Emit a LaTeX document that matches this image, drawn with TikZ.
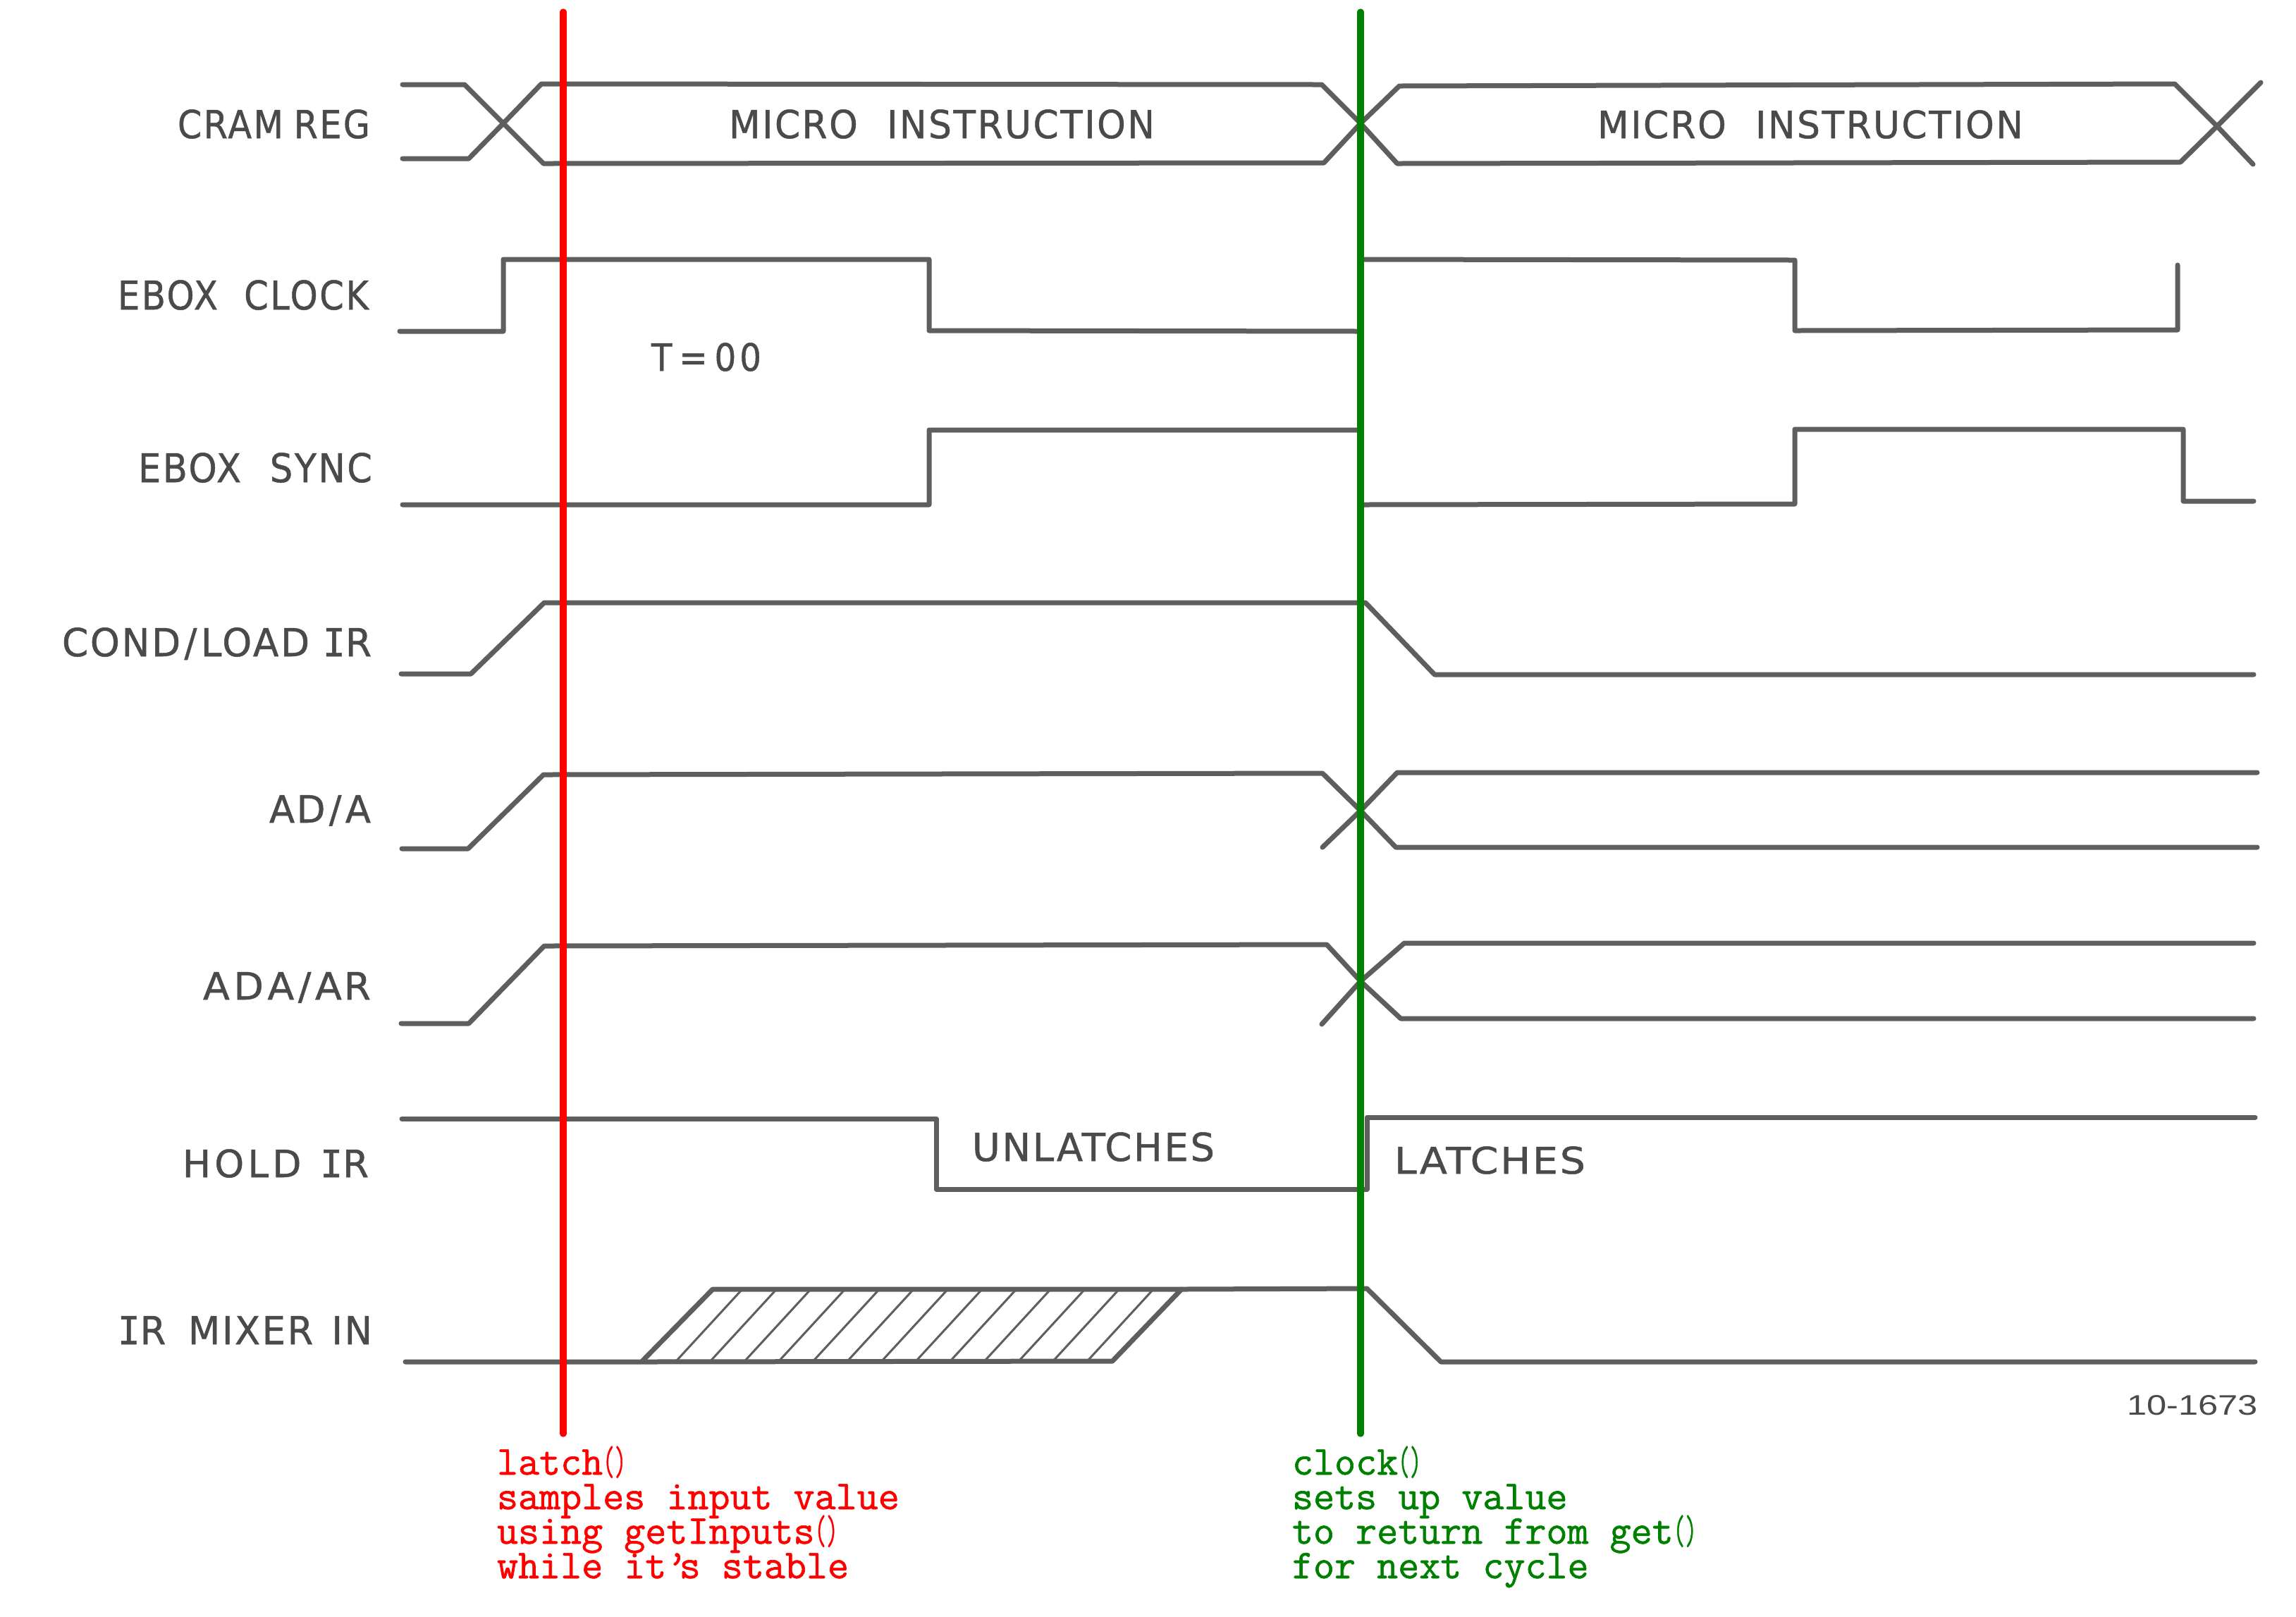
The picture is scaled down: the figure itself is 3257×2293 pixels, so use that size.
\documentclass[tikz,border=0pt]{standalone}
\usepackage{fontspec}
\usepackage{graphicx}
\setmainfont{DejaVu Sans}
\newfontfamily\letterfont[FakeBold=0.9,LetterSpace=5]{DejaVu Sans}
\newfontfamily\slabI[FakeBold=0.9]{DejaVu Sans Mono}
\newfontfamily\partfont{Liberation Sans}
\newfontfamily\notefont[FakeBold=1.1]{Latin Modern Mono}
\newlength\px
\setlength\px{0.3pt}
\newcommand{\Iser}{{\slabI I}}
% name, x left, y baseline, width, cap height, text
\newcommand{\lab}[6]{\node[lettering] (#1) at (#2,#3) {\resizebox{#4\px}{#5\px}{\vphantom{H}\smash{#6}}};}
\newcommand{\gap}[1]{\hspace{#1em}}
\newcommand{\pp}{\scalebox{0.55}[1]{()}}
\definecolor{ink}{HTML}{5E5E5E}
\definecolor{letter}{HTML}{4A4A4A}
\definecolor{latchred}{HTML}{FF0000}
\definecolor{clockgreen}{HTML}{008000}
\tikzset{
  wave/.style={draw=ink,line width=7\px,line cap=round,line join=round},
  hatchline/.style={draw=ink,line width=3\px},
  lettering/.style={inner sep=0pt,outer sep=0pt,anchor=south west,text=letter,font=\letterfont},
  marker/.style={line width=9.3\px,line cap=round},
  note/.style={inner sep=0pt,outer sep=0pt,anchor=base west,font=\notefont\fontsize{17.5}{14.7}\selectfont},
}
\begin{document}
\begin{tikzpicture}[x=0.3pt,y=-0.3pt]
\useasboundingbox (0,0) rectangle (3257,2293);
% CRAM REG
\draw[wave] (571,120) -- (659,120) -- (714,175) -- (771,232) -- (1878,231) -- (1930,175) -- (1985,122) -- (3085,119) -- (3145,179) -- (3196,233);
\draw[wave] (571,225) -- (665,225) -- (714,175) -- (768,119) -- (1875,120) -- (1930,175) -- (1982,232) -- (3093,230) -- (3145,179) -- (3207,117);
% EBOX CLOCK
\draw[wave] (567,470) -- (714,470) -- (714,368) -- (1318,368) -- (1318,469) -- (1931,470) -- (1931,368) -- (2546,369) -- (2546,469) -- (3089,468) -- (3089,376);
% EBOX SYNC
\draw[wave] (571,716) -- (1318,716) -- (1318,610) -- (1931,610) -- (1931,716) -- (2546,715) -- (2546,609) -- (3097,609) -- (3097,711) -- (3197,711);
% COND/LOAD IR
\draw[wave] (569,956) -- (668,956) -- (772,855) -- (1937,855) -- (2035,957) -- (3197,957);
% AD/A
\draw[wave] (570,1204) -- (664,1204) -- (771,1099) -- (1876,1097) -- (1930,1150) -- (1980,1202) -- (3202,1202);
\draw[wave] (1876,1202) -- (1930,1150) -- (1982,1096) -- (3202,1096);
% ADA/AR
\draw[wave] (569,1452) -- (665,1452) -- (772,1342) -- (1882,1340) -- (1930,1392) -- (1987,1445) -- (3197,1445);
\draw[wave] (1875,1453) -- (1930,1392) -- (1992,1338) -- (3197,1338);
% HOLD IR
\draw[wave] (570,1587) -- (1328,1587) -- (1328,1687) -- (1939,1687) -- (1939,1585) -- (3199,1585);
% IR MIXER IN
\draw[wave] (575,1932) -- (910,1932) -- (1578,1931) -- (1676,1829) -- (1011,1829) -- (910,1932);
\draw[wave] (1676,1829) -- (1939,1828) -- (2044,1932) -- (3199,1932);
\foreach \i in {0,...,12} \draw[hatchline] ({960+48.6*\i},1930) -- ({1052+48.6*\i},1830);
% Lettering
\lab{cram}{252}{196}{273}{40}{CRAM\gap{0.3}REG}
\lab{clock}{167}{439}{356}{41}{EBOX\gap{0.75}CLOCK}
\lab{sync}{196}{684}{332}{41}{EBOX\gap{0.8}SYNC}
\lab{cond}{88}{931}{439}{40}{COND\gap{0.1}/\gap{0.1}LOAD\gap{0.35}\Iser R}
\lab{ada}{382}{1167}{144}{39}{AD\gap{0.1}/\gap{0.1}A}
\lab{adar}{288}{1418}{238}{39}{A\gap{0.1}D\gap{0.1}A\gap{0.1}/\gap{0.1}AR}
\lab{hold}{259}{1670}{264}{39}{H\gap{0.1}O\gap{0.1}L\gap{0.1}D\gap{0.5}\Iser R}
\lab{mixer}{167}{1907}{361}{40}{\Iser R\gap{0.6}MIXER\gap{0.5}IN}
\lab{micro}{1034}{196}{604}{40}{MICRO\gap{0.8}INSTRUCTION}
\lab{microb}{2266}{196}{604}{39}{MICRO\gap{0.8}INSTRUCTION}
\lab{tzero}{924}{526}{156}{39}{T\gap{0.2}=\gap{0.2}0\gap{0.1}0}
\lab{unlatch}{1379}{1647}{344}{40}{UNLATCHES}
\lab{latch}{1978}{1665}{271}{38}{LATCHES}
\node[lettering,font=\partfont] (partno) at (3017,2008) {\resizebox{186\px}{28\px}{10-1673}};
% Markers
\draw[marker,draw=clockgreen] (1930,17) -- (1930,2034);
\draw[marker,draw=latchred] (799,17) -- (799,2034);
% Notes
\node[note,text=latchred] (n1) at (705,2092) {latch\pp};
\node[note,text=latchred] (n2) at (705,2141) {samples input value};
\node[note,text=latchred] (n3) at (705,2190) {using getInputs\pp};
\node[note,text=latchred] (n4) at (705,2239) {while it’\kern-0.2em s stable};
\node[note,text=clockgreen] (m1) at (1833,2092) {clock\pp};
\node[note,text=clockgreen] (m2) at (1833,2141) {sets up value};
\node[note,text=clockgreen] (m3) at (1833,2190) {to return from get\pp};
\node[note,text=clockgreen] (m4) at (1833,2239) {for next cycle};
\end{tikzpicture}
\end{document}
